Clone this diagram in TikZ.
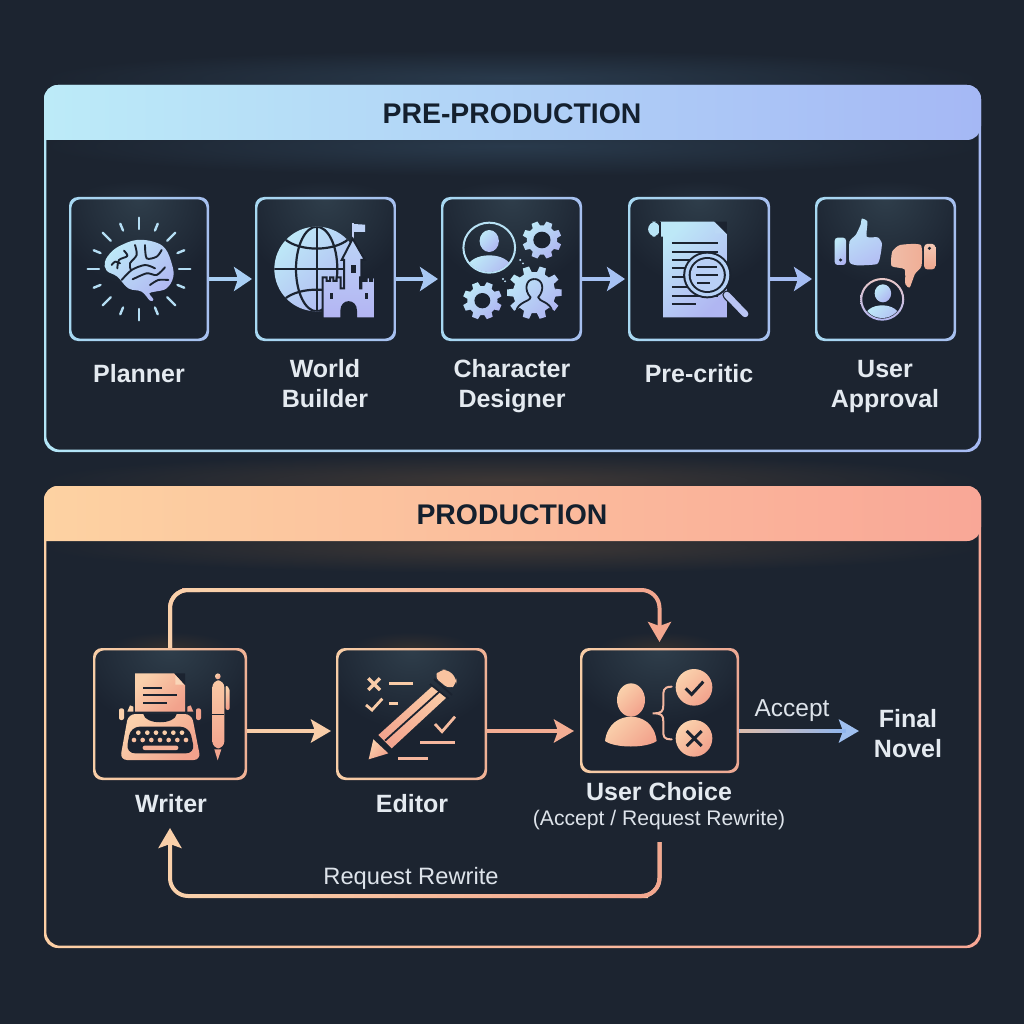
\documentclass[tikz,border=0pt]{standalone}
\usepackage{fontspec}
\setmainfont{Liberation Sans}
\usetikzlibrary{arrows.meta}
\definecolor{bg}{HTML}{1C2430}
\definecolor{boxbase}{HTML}{1B2330}
\definecolor{boxglow}{HTML}{2F3E4B}
\definecolor{ink}{HTML}{1B2330}
\definecolor{blueA}{HTML}{BDE8F7}
\definecolor{blueB}{HTML}{B0B6F2}
\definecolor{orA}{HTML}{FAD1AC}
\definecolor{orB}{HTML}{F2A28C}
\definecolor{headDark}{HTML}{14202E}
\definecolor{lab}{HTML}{E4EAF0}
\definecolor{labthin}{HTML}{DDE3EA}
\definecolor{connA}{HTML}{F9D0AA}
\definecolor{connB}{HTML}{F3A78F}
\definecolor{accA}{HTML}{DBBCAC}
\definecolor{accB}{HTML}{90B6EE}
\newcommand{\hexdef}[1]{\definecolor{#1}{HTML}{#1}}
\hexdef{293A4C}\hexdef{3D3735}\hexdef{B3E6F7}\hexdef{A6BAF3}\hexdef{BCEBF8}\hexdef{A5B8F5}\hexdef{FDD0A5}\hexdef{F8A896}
\hexdef{FDD2A2}\hexdef{F9A797}\hexdef{A7D8F1}\hexdef{A6BFEF}\hexdef{232D3A}\hexdef{A9CFF4}\hexdef{A8C8F3}\hexdef{A6C2F3}
\hexdef{A5BDF2}\hexdef{B4DDF3}\hexdef{C5D2F6}\hexdef{BFD3F6}\hexdef{BCD4F7}\hexdef{B3B4F2}\hexdef{B8E2F5}\hexdef{BFE0F5}
\hexdef{B8E4F6}\hexdef{BBD8F5}\hexdef{BAC5F4}\hexdef{B7D2F6}\hexdef{B9D0F6}\hexdef{F4C8B4}\hexdef{EFA88F}\hexdef{F0BDA8}
\hexdef{F0AE96}\hexdef{E9C7C6}\hexdef{B4B8F2}\hexdef{F7CDA6}\hexdef{EFB195}\hexdef{322F2F}\hexdef{EDA893}\hexdef{F8CDA8}
\hexdef{F3AD93}\hexdef{9FC0F0}\hexdef{FAD6B8}\hexdef{F9CDA9}\hexdef{F8BFA0}\hexdef{F6B097}\hexdef{BCE4F7}\hexdef{B4C0F4}
\hexdef{F9C9A5}\hexdef{F3A58F}\hexdef{F2A58F}\hexdef{F9CCA8}\hexdef{F9C3A0}\hexdef{F6BCA0}\hexdef{F6B79E}\hexdef{F4B7A0}
\tikzset{
  iconblue/.style={top color=blueA,bottom color=blueB,shading angle=45},
  iconor/.style={top color=orA,bottom color=orB,shading angle=45},
  boxnode/.style={rectangle,rounded corners=9pt,fill=boxbase,inner sep=0pt,outer sep=0pt},
  lbl/.style={inner sep=0pt,outer sep=0pt,align=center,text=lab,font=\bfseries\fontsize{25}{30}\selectfont},
  thin lbl/.style={inner sep=0pt,outer sep=0pt,text=labthin},
  head lbl/.style={inner sep=0pt,outer sep=0pt,text=headDark,font=\bfseries\fontsize{28.4}{32}\selectfont},
  conn/.style={line width=4pt,rounded corners=18pt},
  flow/.style={line width=4.5pt,-{Stealth[length=18pt,width=24pt,inset=4pt]}},
  tipped/.style={-{Stealth[length=20pt,width=23pt,inset=4pt]}},
  za/.style={x=0.33333pt,y=-0.33333pt},
  zb/.style={x=0.3444pt,y=-0.33333pt},
  inkline/.style={draw=ink,line width=1.9pt,line cap=round,line join=round},
  inkrule/.style={draw=ink,line width=2pt},
  light/.style={line cap=round,line join=round},
}
\newcommand{\ringpath}[8]{\path[even odd rule,left color=#7,right color=#8,rounded corners=#6pt]
  (#1,#2) rectangle (#3,#4) ({#1+#5},{#2+#5}) rectangle ({#3-#5},{#4-#5});}
\newcommand{\iconbox}[8]{%
  \shade[inner color=#8,outer color=bg] ({(#2+#4)/2},#3) ellipse (62 and 16);
  \node[boxnode,minimum width={(#4-#2)*1pt},minimum height={(#5-#3)*1pt}] (#1) at ({(#2+#4)/2},{(#3+#5)/2}) {};
  \begin{scope}
    \clip[rounded corners=9pt] (#2,#3) rectangle (#4,#5);
    \shade[inner color=boxglow,outer color=boxbase] ({(#2+#4)/2},#3) ellipse ({(#4-#2)*0.62} and {(#5-#3)*0.62});
  \end{scope}
  \ringpath{#2}{#3}{#4}{#5}{2.3}{9}{#6}{#7}}
\newcommand{\gearshape}[6]{%
  \path[iconblue] ([shift={(#1,#2)}]0:#4) \foreach \a in {#5} {
    -- ([shift={(#1,#2)}]\a-#6:#4) -- ([shift={(#1,#2)}]\a-#6*0.62:#3) -- ([shift={(#1,#2)}]\a+#6*0.62:#3) -- ([shift={(#1,#2)}]\a+#6:#4)
  } -- cycle;}
% horizontal colour-stepped stroke: #1 y, #2 x start, #3 x end, #4 colour at start, #5 colour at end
\newcommand{\stepline}[5]{%
  \foreach \i in {0,...,31}{
    \pgfmathtruncatemacro\p{100*\i/31}
    \draw[line width=4pt,color=#5!\p!#4] ({#2+(#3-#2)*\i/32-0.3},#1) -- ({#2+(#3-#2)*(\i+1)/32},#1);
  }}
\begin{document}
\begin{tikzpicture}[x=1pt,y=-1pt]
\useasboundingbox (0,0) rectangle (1024,1024);
\fill[bg] (0,0) rectangle (1024,1024);

% ---------- panel glows
\shade[inner color=293A4C,outer color=bg] (512,78) ellipse (470 and 28);
\shade[inner color=293A4C,outer color=bg] (512,146) ellipse (470 and 30);
\shade[inner color=3D3735,outer color=bg] (512,480) ellipse (470 and 26);
\shade[inner color=3D3735,outer color=bg] (512,547) ellipse (470 and 26);

% ---------- PRE-PRODUCTION panel
\ringpath{44}{85}{981}{452}{2.3}{14}{B3E6F7}{A6BAF3}
\path[left color=BCEBF8,right color=A5B8F5,rounded corners=14pt] (44,140) -- (44,85) -- (981,85) -- (981,140) [sharp corners] -- cycle;
\node[head lbl] (prehead) at (512,114) {PRE-PRODUCTION};

% ---------- PRODUCTION panel
\ringpath{44}{486}{981}{948}{2.3}{14}{FDD0A5}{F8A896}
\path[left color=FDD2A2,right color=F9A797,rounded corners=14pt] (44,541) -- (44,486) -- (981,486) -- (981,541) [sharp corners] -- cycle;
\node[head lbl] (prodhead) at (512,515) {PRODUCTION};

% ---------- row 1 boxes
\iconbox{planner}{69}{197}{209}{341}{A7D8F1}{A6BFEF}{232D3A}
\iconbox{world}{255}{197}{396}{341}{A7D8F1}{A6BFEF}{232D3A}
\iconbox{chardes}{441}{197}{582}{341}{A7D8F1}{A6BFEF}{232D3A}
\iconbox{critic}{628}{197}{770}{341}{A7D8F1}{A6BFEF}{232D3A}
\iconbox{approval}{815}{197}{956}{341}{A7D8F1}{A6BFEF}{232D3A}

\node[lbl] (lplanner) at (139,374) {Planner};
\node[lbl] (lworld) at (325,384) {World\\Builder};
\node[lbl] (lchar) at (512,386) {Character\\Designer};
\node[lbl] (lcritic) at (699,374) {Pre-critic};
\node[lbl] (lapproval) at (885,386) {User\\Approval};

\draw[flow,color=A9CFF4,shorten >=3pt] ([yshift=-10pt]planner.east) -- ([yshift=-10pt]world.west);
\draw[flow,color=A8C8F3,shorten >=3pt] ([yshift=-10pt]world.east) -- ([yshift=-10pt]chardes.west);
\draw[flow,color=A6C2F3,shorten >=3pt] ([yshift=-10pt]chardes.east) -- ([yshift=-10pt]critic.west);
\draw[flow,color=A5BDF2,shorten >=3pt] ([yshift=-10pt]critic.east) -- ([yshift=-10pt]approval.west);

% ---------- brain + globe + castle
\begin{scope}[shift={(40,180)},za]
  \foreach \a in {0,45,90,135,180,225,270,315}
    \draw[color=B4DDF3,line width=2.4pt,light] ([shift={(297,267)}]\a:120) -- ([shift={(297,267)}]\a:154);
  \foreach \a in {22.5,67.5,112.5,157.5,202.5,247.5,292.5,337.5}
    \draw[color=B4DDF3,line width=2.4pt,light] ([shift={(297,267)}]\a:125) -- ([shift={(297,267)}]\a:147);
  \path[iconblue] plot[smooth cycle,tension=.65] coordinates {(195,245)(215,215)(245,195)(290,180)(340,185)(375,205)(395,250)(400,290)(380,325)(345,335)(328,340)(340,358)(330,362)(305,335)(265,325)(232,290)(200,272)};
  \draw[inkline] plot[smooth] coordinates {(232,265)(237,240)(262,228)(252,212)};
  \draw[inkline] plot[smooth] coordinates {(285,195)(290,225)(270,250)(272,268)};
  \draw[inkline] plot[smooth] coordinates {(245,300)(275,270)(315,255)(345,265)};
  \draw[inkline] plot[smooth] coordinates {(315,195)(320,235)(350,230)(365,210)};
  \draw[inkline] plot[smooth] coordinates {(278,298)(320,280)(350,285)(375,262)};
  \draw[inkline] plot[smooth] coordinates {(330,315)(355,300)(385,300)};
  \draw[inkline] plot[smooth] coordinates {(215,255)(225,245)(240,250)};

  % globe
  \begin{scope}
    \clip (830,267) circle (127);
    \path[iconblue] (830,267) circle (127);
    \draw[ink,line width=2.2pt] (830,267) ellipse (62 and 127);
    \draw[ink,line width=2.2pt] (830,130) -- (830,400);
    \draw[ink,line width=2.2pt] (700,267) -- (960,267);
    \draw[ink,line width=2.2pt] (735,178) .. controls (780,215) and (880,215) .. (925,178);
    \draw[ink,line width=2.2pt] (735,356) .. controls (780,320) and (880,320) .. (925,356);
  \end{scope}
  % castle
  \draw[color=C5D2F6,line width=1.8pt] (938,178) -- (938,130);
  \path[fill=BFD3F6] (941,132) -- (975,134) -- (975,156) -- (941,156) -- cycle;
  \path[top color=BCD4F7,bottom color=B3B4F2,draw=ink,line width=2pt]
    (848,415) -- (848,292) -- (860,292) -- (860,303) -- (870,303) -- (870,292) -- (880,292) -- (880,303) -- (890,303) -- (890,292) -- (902,292)
    -- (902,325) -- (912,325) -- (912,240) -- (905,240) -- (938,176) -- (975,240) -- (964,240) -- (964,325) -- (960,325)
    -- (960,292) -- (970,292) -- (970,303) -- (980,303) -- (980,292) -- (990,292) -- (990,303) -- (996,303) -- (996,292) -- (1005,292) -- (1005,415)
    -- (948,415) -- (948,392) .. controls (948,358) and (904,358) .. (904,392) -- (904,415) -- cycle;
  \fill[ink] (933,255) rectangle (947,280);
  \fill[ink] (871,340) rectangle (879,358);
  \fill[ink] (976,340) rectangle (984,358);
\end{scope}

% ---------- character designer, critic, approval icons
\begin{scope}[shift={(430,180)},zb]
  % person ring
  \draw[color=B8E2F5,line width=2pt] (172,203) circle (75);
  \begin{scope}
    \clip (172,203) circle (73);
    \path[iconblue] (172,262) ellipse (62 and 36);
  \end{scope}
  \path[iconblue] (172,183) ellipse (28 and 33);
  % gears
  \gearshape{325}{180}{57}{44}{22.5,67.5,112.5,157.5,202.5,247.5,292.5,337.5}{15}
  \fill[boxbase] (325,180) circle (25);
  \gearshape{152}{362}{57}{44}{22.5,67.5,112.5,157.5,202.5,247.5,292.5,337.5}{15}
  \fill[boxbase] (152,362) circle (23);
  \gearshape{303}{338}{80}{62}{0,36,72,108,144,180,216,252,288,324}{11}
  \draw[ink,line width=1.8pt,line join=round] (303,297) .. controls (278,297) and (272,330) .. (292,352) .. controls (290,365) and (255,365) .. (250,395);
  \draw[ink,line width=1.8pt,line join=round] (303,297) .. controls (328,297) and (334,330) .. (314,352) .. controls (316,365) and (350,365) .. (355,395);
  \fill[color=BFE0F5] (262,240) circle (3.5) (212,297) circle (3.5) (270,250) circle (3) (218,304) circle (3);

  % document
  \path[iconblue] (668,125) -- (825,125) -- (862,163) -- (862,412) -- (677,412) -- (677,170) -- (668,170) -- cycle;
  \path[fill=B8E4F6,rounded corners=8pt] (633,170) -- (633,125) -- (668,125) -- (668,170) -- cycle;
  \draw[ink,line width=1.2pt] (668,125) -- (668,170);
  \fill[boxbase] (828,125) -- (862,160) -- (862,125) -- cycle;
  \path[fill=BBD8F5] (828,128) -- (858,160) -- (828,160) -- cycle;
  \foreach \y in {190,215,240,265,292,320,347}
    \draw[inkrule] (702,\y) -- (835,\y);
  \draw[inkrule] (702,373) -- (772,373);
  % magnifier
  \draw[ink,line width=9pt,line cap=round] (862,345) -- (915,402);
  \draw[color=BAC5F4,line width=6.5pt,line cap=round] (862,345) -- (915,402);
  \fill[ink] (805,285) circle (70);
  \fill[color=B7D2F6] (805,285) circle (64);
  \fill[ink] (805,285) circle (54);
  \fill[color=B9D0F6] (805,285) circle (48);
  \foreach \y/\a/\b in {262/775/832,285/772/835,308/775/812}
    \draw[inkrule] (\a,\y) -- (\b,\y);

  % thumbs
  \path[iconblue,rounded corners=3pt] (1175,173) rectangle (1208,255);
  \fill[ink] (1192,240) circle (5);
  \path[top color=BCE4F7,bottom color=B4C0F4,shading angle=30] plot[smooth cycle,tension=.35] coordinates {(1218,185)(1236,165)(1250,135)(1254,116)(1270,125)(1268,170)(1300,172)(1312,190)(1308,225)(1298,252)(1240,256)(1218,246)};
  \path[top color=F4C8B4,bottom color=EFA88F,rounded corners=3pt] (1435,192) rectangle (1467,268);
  \fill[ink] (1450,205) circle (5);
  \path[left color=F0BDA8,right color=F0AE96] plot[smooth cycle,tension=.35] coordinates {(1425,195)(1365,195)(1342,215)(1340,258)(1378,268)(1380,312)(1393,322)(1408,282)(1427,258)};
  % person
  \path[top color=E9C7C6,bottom color=B4B8F2,even odd rule] (1313,358) circle (64) (1313,358) circle (58);
  \begin{scope}
    \clip (1313,358) circle (56);
    \path[iconblue] (1313,410) ellipse (50 and 34);
  \end{scope}
  \path[iconblue] (1315,340) ellipse (24 and 27);
\end{scope}

% ---------- row 2 boxes
\iconbox{writer}{93}{648}{247}{780}{F7CDA6}{EFB195}{322F2F}
\iconbox{editor}{336}{648}{487}{780}{F7CDA6}{EFB195}{322F2F}
\iconbox{choice}{580}{648}{739}{773}{F7CDA6}{EDA893}{322F2F}

\node[lbl] (lwriter) at (171,804) {Writer};
\node[lbl] (leditor) at (412,804) {Editor};
\node[lbl] (lchoice) at (659,792) {User Choice};
\node[thin lbl,font=\fontsize{21.1}{25}\selectfont] (lsub) at (659,820.5) {(Accept / Request Rewrite)};
\node[lbl] (final) at (908,734) {Final\\Novel};
\node[thin lbl,font=\fontsize{23.7}{28}\selectfont] (lrewrite) at (411,878) {Request Rewrite};
\node[thin lbl,font=\fontsize{24.5}{28}\selectfont] (laccept) at (792,711) {Accept};

% ---------- connectors
\coordinate (topbus) at (200,590);
\coordinate (botbus) at (630,896);
\coordinate (rwstart) at (659.5,842);
\coordinate (rwend) at (170,828);
\coordinate (accrow) at (0,731);
\draw[conn,color=connB,tipped,shorten >=6pt] (writer.north) |- (topbus) -| (choice.north);
\draw[conn,color=connA] (writer.north) |- (topbus);
\stepline{590}{200}{642}{connA}{connB}
\draw[conn,color=connA,tipped] (rwstart) |- (botbus) -| (rwend);
\draw[conn,color=connB] (rwstart) |- (botbus);
\stepline{896}{189}{630}{connA}{connB}

\draw[flow,color=F8CDA8,tipped,line width=4pt,shorten >=5pt] ([yshift=-17pt]writer.east) -- ([yshift=-17pt]editor.west);
\draw[flow,color=F3AD93,tipped,line width=4pt,shorten >=6pt] ([yshift=-17pt]editor.east) -- ([yshift=-20.5pt]choice.west);
\draw[flow,color=9FC0F0,tipped,line width=4pt,shorten >=15pt] ([yshift=-20.5pt]choice.east) -- (final.west |- accrow);
\stepline{731}{740}{846}{accA}{accB}

% ---------- writer icon
\begin{scope}[shift={(80,580)},za]
  \path[iconor] (165,280) -- (283,280) -- (315,315) -- (315,395) -- (165,395) -- cycle;
  \fill[boxbase] (283,280) -- (315,315) -- (315,280) -- cycle;
  \path[fill=FAD6B8] (286,286) -- (312,314) -- (286,314) -- cycle;
  \draw[inkrule] (190,323) -- (245,323) (190,346) -- (290,346) (190,368) -- (260,368);
  \path[iconor,rounded corners=2pt] (117,385) rectangle (132,420) (348,385) rectangle (363,420);
  \path[iconor] (142,395) -- (150,376) -- (160,380) -- (160,395) -- cycle (322,395) -- (322,380) -- (332,376) -- (340,395) -- cycle;
  \path[iconor,rounded corners=7pt] (145,402) -- (335,402) -- (362,540) -- (120,540) -- cycle;
  \fill[ink] (190,402) .. controls (195,435) and (285,435) .. (290,402) -- cycle;
  \path[fill=ink,rounded corners=9pt] (152,440) -- (328,440) -- (345,520) -- (138,520) -- cycle;
  \foreach \x in {175,202,228,254,280,306} \fill[color=F9CDA9] (\x,458) circle (7);
  \foreach \x in {162,188,214,240,266,292,318} \fill[color=F8BFA0] (\x,480) circle (7);
  \path[fill=F6B097,rounded corners=2pt] (188,497) rectangle (295,510);
  % pen
  \path[iconor,rounded corners=3pt] (405,280) rectangle (422,298);
  \path[top color=F9C9A5,bottom color=F3A58F,rounded corners=7pt] (397,301) rectangle (433,505);
  \draw[ink,line width=1.5pt] (397,403) -- (433,403);
  \path[fill=F2A58F] (403,508) -- (424,508) -- (413,541) -- cycle;
  \path[iconor,rounded corners=2pt] (437,315) -- (449,325) -- (449,390) -- (437,390) -- cycle;

  % editor icon
  \draw[color=F9CCA8,line width=3.4pt,line cap=butt] (865,295) -- (900,330) (900,295) -- (865,330);
  \draw[color=F9CCA8,line width=2.8pt] (927,310) -- (1000,310) (927,370) -- (955,370);
  \draw[color=F9CCA8,line width=2.8pt,line join=miter] (858,375) -- (876,390) -- (907,356);
  \path[iconor] (866,538) -- (880,478) -- (925,520) -- cycle;
  \path[top color=F9C9A5,bottom color=F3A58F,shading angle=-45] (895,465) -- (1058,318) -- (1100,352) -- (935,505) -- cycle;
  \path[fill=F9C3A0,rounded corners=6pt] (1080,270) -- (1103,268) -- (1130,295) -- (1130,312) -- (1108,328) -- (1062,290) -- cycle;
  \draw[ink,line width=1.8pt] (1050,312) -- (1106,356);
  \draw[ink,line width=1.8pt] (1062,297) -- (1116,345);
  \draw[ink,line width=1.8pt] (915,482) -- (1078,335);
  \draw[ink,line width=1.8pt] (886,468) -- (928,510);
  \draw[color=F6BCA0,line width=2.8pt,line join=miter] (1065,432) -- (1086,455) -- (1125,410);
  \draw[color=F6B79E,line width=2.8pt] (1020,487) -- (1125,487) (955,535) -- (1045,535);
\end{scope}

% ---------- user choice icon
\begin{scope}[shift={(520,580)},za]
  \path[iconor] (333,360) ellipse (42 and 50);
  \path[iconor] (255,483) .. controls (262,430) and (300,410) .. (333,410) .. controls (366,410) and (404,430) .. (410,483) .. controls (380,505) and (285,505) .. (255,483) -- cycle;
  \draw[color=F4B7A0,line width=2pt,line cap=round] (455,320) .. controls (428,320) and (430,335) .. (430,350) -- (430,375) .. controls (430,395) and (425,400) .. (398,400) .. controls (425,400) and (430,405) .. (430,425) -- (430,450) .. controls (430,470) and (430,478) .. (455,478);
  \path[iconor] (522,322) circle (55);
  \path[iconor] (522,475) circle (55);
  \draw[ink,line width=3pt] (497,325) -- (515,343) -- (550,305);
  \draw[ink,line width=3pt] (500,453) -- (545,498) (545,453) -- (500,498);
\end{scope}
\end{tikzpicture}
\end{document}
